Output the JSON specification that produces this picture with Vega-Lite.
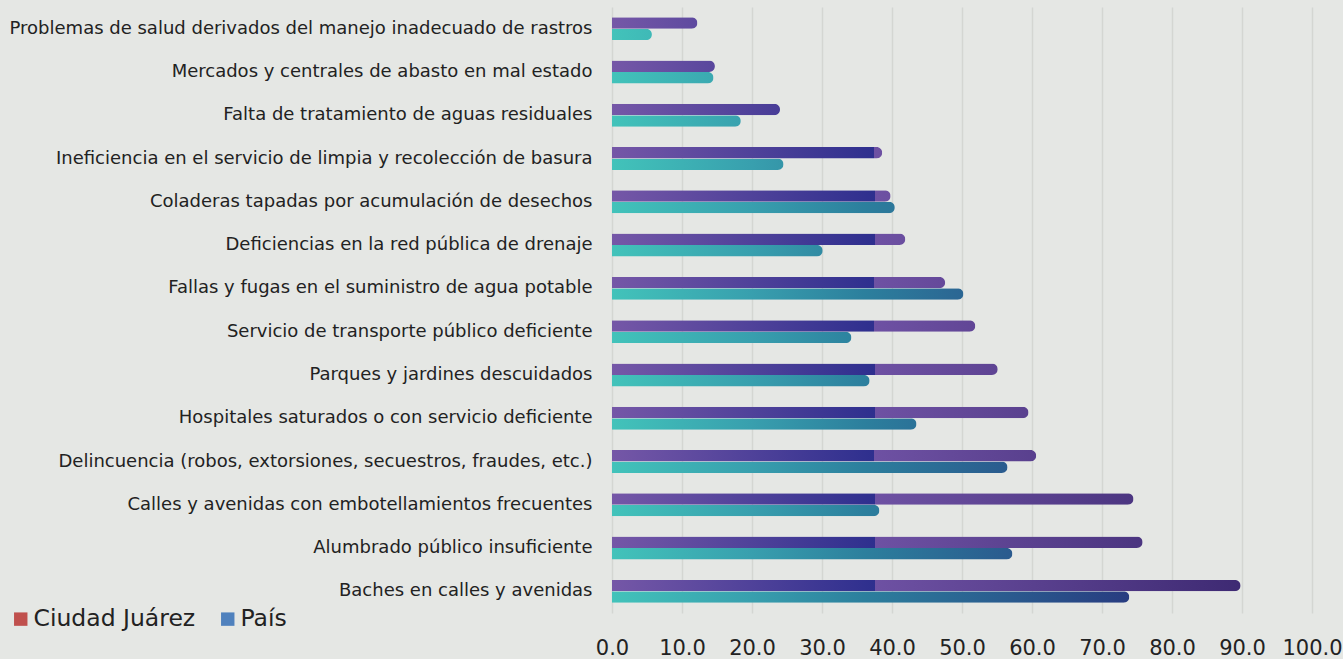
{
  "$schema": "https://vega.github.io/schema/vega-lite/v6.json",
  "autosize": {"type": "none"},
  "width": 700,
  "height": 606,
  "padding": {"left": 612, "top": 7, "right": 31, "bottom": 46},
  "background": "#e5e7e4",
  "config": {"view": {"stroke": null}, "font": "DejaVu Sans"},
  "data": {"values": [
    {"problema": "Problemas de salud derivados del manejo inadecuado de rastros", "serie": "Ciudad Juárez", "valor": 12.2},
    {"problema": "Problemas de salud derivados del manejo inadecuado de rastros", "serie": "País", "valor": 5.7},
    {"problema": "Mercados y centrales de abasto en mal estado", "serie": "Ciudad Juárez", "valor": 14.7},
    {"problema": "Mercados y centrales de abasto en mal estado", "serie": "País", "valor": 14.5},
    {"problema": "Falta de tratamiento de aguas residuales", "serie": "Ciudad Juárez", "valor": 24.0},
    {"problema": "Falta de tratamiento de aguas residuales", "serie": "País", "valor": 18.4},
    {"problema": "Ineficiencia en el servicio de limpia y recolección de basura", "serie": "Ciudad Juárez", "valor": 38.6},
    {"problema": "Ineficiencia en el servicio de limpia y recolección de basura", "serie": "País", "valor": 24.5},
    {"problema": "Coladeras tapadas por acumulación de desechos", "serie": "Ciudad Juárez", "valor": 39.8},
    {"problema": "Coladeras tapadas por acumulación de desechos", "serie": "País", "valor": 40.4},
    {"problema": "Deficiencias en la red pública de drenaje", "serie": "Ciudad Juárez", "valor": 41.9},
    {"problema": "Deficiencias en la red pública de drenaje", "serie": "País", "valor": 30.1},
    {"problema": "Fallas y fugas en el suministro de agua potable", "serie": "Ciudad Juárez", "valor": 47.6},
    {"problema": "Fallas y fugas en el suministro de agua potable", "serie": "País", "valor": 50.2},
    {"problema": "Servicio de transporte público deficiente", "serie": "Ciudad Juárez", "valor": 51.9},
    {"problema": "Servicio de transporte público deficiente", "serie": "País", "valor": 34.2},
    {"problema": "Parques y jardines descuidados", "serie": "Ciudad Juárez", "valor": 55.1},
    {"problema": "Parques y jardines descuidados", "serie": "País", "valor": 36.8},
    {"problema": "Hospitales saturados o con servicio deficiente", "serie": "Ciudad Juárez", "valor": 59.5},
    {"problema": "Hospitales saturados o con servicio deficiente", "serie": "País", "valor": 43.5},
    {"problema": "Delincuencia (robos, extorsiones, secuestros, fraudes, etc.)", "serie": "Ciudad Juárez", "valor": 60.6},
    {"problema": "Delincuencia (robos, extorsiones, secuestros, fraudes, etc.)", "serie": "País", "valor": 56.5},
    {"problema": "Calles y avenidas con embotellamientos frecuentes", "serie": "Ciudad Juárez", "valor": 74.5},
    {"problema": "Calles y avenidas con embotellamientos frecuentes", "serie": "País", "valor": 38.2},
    {"problema": "Alumbrado público insuficiente", "serie": "Ciudad Juárez", "valor": 75.8},
    {"problema": "Alumbrado público insuficiente", "serie": "País", "valor": 57.2},
    {"problema": "Baches en calles y avenidas", "serie": "Ciudad Juárez", "valor": 89.8},
    {"problema": "Baches en calles y avenidas", "serie": "País", "valor": 73.9}
  ]},
  "encoding": {
    "y": {
      "field": "problema", "type": "nominal", "sort": null,
      "scale": {"paddingInner": 0.47, "paddingOuter": 0.235},
      "axis": {"title": null, "domain": false, "ticks": false, "grid": false, "labelFontSize": 18, "labelFontWeight": 400, "labelColor": "#222222", "labelPadding": 20, "labelLimit": 800}
    },
    "yOffset": {"field": "serie", "type": "nominal", "scale": {"domain": ["Ciudad Juárez", "País"], "paddingInner": 0, "paddingOuter": 0}},
    "x": {
      "field": "valor", "type": "quantitative",
      "scale": {"domain": [0, 100], "nice": false},
      "axis": {"title": null, "domain": false, "ticks": false, "grid": true, "gridColor": "#d4d6d2", "gridWidth": 1.5, "values": [0, 10, 20, 30, 40, 50, 60, 70, 80, 90, 100], "format": ".1f", "labelFontSize": 21, "labelFontWeight": 400, "labelColor": "#222222", "labelPadding": 24, "labelFlush": false}
    }
  },
  "layer": [
    {
      "transform": [{"filter": "datum.serie === 'Ciudad Juárez'"}],
      "mark": {"type": "bar", "cornerRadiusEnd": 6},
      "encoding": {
        "color": {
          "condition": [
            {"test": "datum.problema === 'Problemas de salud derivados del manejo inadecuado de rastros'", "value": {"gradient": "linear", "x1": 0, "y1": 0, "x2": 1, "y2": 0, "stops": [{"offset": 0, "color": "#7557a7"}, {"offset": 1, "color": "#5e4a9f"}]}},
            {"test": "datum.problema === 'Mercados y centrales de abasto en mal estado'", "value": {"gradient": "linear", "x1": 0, "y1": 0, "x2": 1, "y2": 0, "stops": [{"offset": 0, "color": "#7557a7"}, {"offset": 1, "color": "#59479d"}]}},
            {"test": "datum.problema === 'Falta de tratamiento de aguas residuales'", "value": {"gradient": "linear", "x1": 0, "y1": 0, "x2": 1, "y2": 0, "stops": [{"offset": 0, "color": "#7557a7"}, {"offset": 1, "color": "#483d97"}]}},
            {"test": "datum.problema === 'Ineficiencia en el servicio de limpia y recolección de basura'", "value": {"gradient": "linear", "x1": 0, "y1": 0, "x2": 1, "y2": 0, "stops": [{"offset": 0, "color": "#7557a7"}, {"offset": 0.9715, "color": "#2e2f8e"}, {"offset": 0.9715, "color": "#6e51a3"}, {"offset": 1, "color": "#6d50a2"}]}},
            {"test": "datum.problema === 'Coladeras tapadas por acumulación de desechos'", "value": {"gradient": "linear", "x1": 0, "y1": 0, "x2": 1, "y2": 0, "stops": [{"offset": 0, "color": "#7557a7"}, {"offset": 0.9446, "color": "#2e2f8e"}, {"offset": 0.9446, "color": "#6e51a3"}, {"offset": 1, "color": "#6c4fa1"}]}},
            {"test": "datum.problema === 'Deficiencias en la red pública de drenaje'", "value": {"gradient": "linear", "x1": 0, "y1": 0, "x2": 1, "y2": 0, "stops": [{"offset": 0, "color": "#7557a7"}, {"offset": 0.895, "color": "#2e2f8e"}, {"offset": 0.895, "color": "#6e51a3"}, {"offset": 1, "color": "#6a4e9f"}]}},
            {"test": "datum.problema === 'Fallas y fugas en el suministro de agua potable'", "value": {"gradient": "linear", "x1": 0, "y1": 0, "x2": 1, "y2": 0, "stops": [{"offset": 0, "color": "#7557a7"}, {"offset": 0.7878, "color": "#2e2f8e"}, {"offset": 0.7878, "color": "#6e51a3"}, {"offset": 1, "color": "#65499a"}]}},
            {"test": "datum.problema === 'Servicio de transporte público deficiente'", "value": {"gradient": "linear", "x1": 0, "y1": 0, "x2": 1, "y2": 0, "stops": [{"offset": 0, "color": "#7557a7"}, {"offset": 0.7225, "color": "#2e2f8e"}, {"offset": 0.7225, "color": "#6e51a3"}, {"offset": 1, "color": "#614696"}]}},
            {"test": "datum.problema === 'Parques y jardines descuidados'", "value": {"gradient": "linear", "x1": 0, "y1": 0, "x2": 1, "y2": 0, "stops": [{"offset": 0, "color": "#7557a7"}, {"offset": 0.6818, "color": "#2e2f8e"}, {"offset": 0.6818, "color": "#6e51a3"}, {"offset": 1, "color": "#5e4493"}]}},
            {"test": "datum.problema === 'Hospitales saturados o con servicio deficiente'", "value": {"gradient": "linear", "x1": 0, "y1": 0, "x2": 1, "y2": 0, "stops": [{"offset": 0, "color": "#7557a7"}, {"offset": 0.6313, "color": "#2e2f8e"}, {"offset": 0.6313, "color": "#6e51a3"}, {"offset": 1, "color": "#5a418f"}]}},
            {"test": "datum.problema === 'Delincuencia (robos, extorsiones, secuestros, fraudes, etc.)'", "value": {"gradient": "linear", "x1": 0, "y1": 0, "x2": 1, "y2": 0, "stops": [{"offset": 0, "color": "#7557a7"}, {"offset": 0.6188, "color": "#2e2f8e"}, {"offset": 0.6188, "color": "#6e51a3"}, {"offset": 1, "color": "#59408e"}]}},
            {"test": "datum.problema === 'Calles y avenidas con embotellamientos frecuentes'", "value": {"gradient": "linear", "x1": 0, "y1": 0, "x2": 1, "y2": 0, "stops": [{"offset": 0, "color": "#7557a7"}, {"offset": 0.504, "color": "#2e2f8e"}, {"offset": 0.504, "color": "#6e51a3"}, {"offset": 1, "color": "#4c3681"}]}},
            {"test": "datum.problema === 'Alumbrado público insuficiente'", "value": {"gradient": "linear", "x1": 0, "y1": 0, "x2": 1, "y2": 0, "stops": [{"offset": 0, "color": "#7557a7"}, {"offset": 0.4954, "color": "#2e2f8e"}, {"offset": 0.4954, "color": "#6e51a3"}, {"offset": 1, "color": "#4b3580"}]}}
          ],
          "value": {"gradient": "linear", "x1": 0, "y1": 0, "x2": 1, "y2": 0, "stops": [{"offset": 0, "color": "#7557a7"}, {"offset": 0.418, "color": "#2e2f8e"}, {"offset": 0.418, "color": "#6e51a3"}, {"offset": 1, "color": "#3e2a73"}]}
        }
      }
    },
    {
      "transform": [{"filter": "datum.serie === 'País'"}],
      "mark": {"type": "bar", "cornerRadiusEnd": 6},
      "encoding": {
        "color": {
          "condition": [
            {"test": "datum.problema === 'Problemas de salud derivados del manejo inadecuado de rastros'", "value": {"gradient": "linear", "x1": 0, "y1": 0, "x2": 1, "y2": 0, "stops": [{"offset": 0, "color": "#42c3ba"}, {"offset": 1, "color": "#3fb9b7"}]}},
            {"test": "datum.problema === 'Mercados y centrales de abasto en mal estado'", "value": {"gradient": "linear", "x1": 0, "y1": 0, "x2": 1, "y2": 0, "stops": [{"offset": 0, "color": "#42c3ba"}, {"offset": 1, "color": "#3ba9b1"}]}},
            {"test": "datum.problema === 'Falta de tratamiento de aguas residuales'", "value": {"gradient": "linear", "x1": 0, "y1": 0, "x2": 1, "y2": 0, "stops": [{"offset": 0, "color": "#42c3ba"}, {"offset": 1, "color": "#39a2af"}]}},
            {"test": "datum.problema === 'Ineficiencia en el servicio de limpia y recolección de basura'", "value": {"gradient": "linear", "x1": 0, "y1": 0, "x2": 1, "y2": 0, "stops": [{"offset": 0, "color": "#42c3ba"}, {"offset": 0.82, "color": "#389fae"}, {"offset": 1, "color": "#3596a9"}]}},
            {"test": "datum.problema === 'Coladeras tapadas por acumulación de desechos'", "value": {"gradient": "linear", "x1": 0, "y1": 0, "x2": 1, "y2": 0, "stops": [{"offset": 0, "color": "#42c3ba"}, {"offset": 0.496, "color": "#389fae"}, {"offset": 0.893, "color": "#2c7f9d"}, {"offset": 1, "color": "#2c779a"}]}},
            {"test": "datum.problema === 'Deficiencias en la red pública de drenaje'", "value": {"gradient": "linear", "x1": 0, "y1": 0, "x2": 1, "y2": 0, "stops": [{"offset": 0, "color": "#42c3ba"}, {"offset": 0.667, "color": "#389fae"}, {"offset": 1, "color": "#318ba3"}]}},
            {"test": "datum.problema === 'Fallas y fugas en el suministro de agua potable'", "value": {"gradient": "linear", "x1": 0, "y1": 0, "x2": 1, "y2": 0, "stops": [{"offset": 0, "color": "#42c3ba"}, {"offset": 0.399, "color": "#389fae"}, {"offset": 0.719, "color": "#2c7f9d"}, {"offset": 1, "color": "#2b6693"}]}},
            {"test": "datum.problema === 'Servicio de transporte público deficiente'", "value": {"gradient": "linear", "x1": 0, "y1": 0, "x2": 1, "y2": 0, "stops": [{"offset": 0, "color": "#42c3ba"}, {"offset": 0.587, "color": "#389fae"}, {"offset": 1, "color": "#2d839f"}]}},
            {"test": "datum.problema === 'Parques y jardines descuidados'", "value": {"gradient": "linear", "x1": 0, "y1": 0, "x2": 1, "y2": 0, "stops": [{"offset": 0, "color": "#42c3ba"}, {"offset": 0.545, "color": "#389fae"}, {"offset": 1, "color": "#2c7e9d"}]}},
            {"test": "datum.problema === 'Hospitales saturados o con servicio deficiente'", "value": {"gradient": "linear", "x1": 0, "y1": 0, "x2": 1, "y2": 0, "stops": [{"offset": 0, "color": "#42c3ba"}, {"offset": 0.461, "color": "#389fae"}, {"offset": 0.829, "color": "#2c7f9d"}, {"offset": 1, "color": "#2b7298"}]}},
            {"test": "datum.problema === 'Delincuencia (robos, extorsiones, secuestros, fraudes, etc.)'", "value": {"gradient": "linear", "x1": 0, "y1": 0, "x2": 1, "y2": 0, "stops": [{"offset": 0, "color": "#42c3ba"}, {"offset": 0.355, "color": "#389fae"}, {"offset": 0.638, "color": "#2c7f9d"}, {"offset": 1, "color": "#2a5b8e"}]}},
            {"test": "datum.problema === 'Calles y avenidas con embotellamientos frecuentes'", "value": {"gradient": "linear", "x1": 0, "y1": 0, "x2": 1, "y2": 0, "stops": [{"offset": 0, "color": "#42c3ba"}, {"offset": 0.525, "color": "#389fae"}, {"offset": 0.945, "color": "#2c7f9d"}, {"offset": 1, "color": "#2c7b9c"}]}},
            {"test": "datum.problema === 'Alumbrado público insuficiente'", "value": {"gradient": "linear", "x1": 0, "y1": 0, "x2": 1, "y2": 0, "stops": [{"offset": 0, "color": "#42c3ba"}, {"offset": 0.35, "color": "#389fae"}, {"offset": 0.63, "color": "#2c7f9d"}, {"offset": 1, "color": "#2a5a8e"}]}}
          ],
          "value": {"gradient": "linear", "x1": 0, "y1": 0, "x2": 1, "y2": 0, "stops": [{"offset": 0, "color": "#42c3ba"}, {"offset": 0.271, "color": "#389fae"}, {"offset": 0.487, "color": "#2c7f9d"}, {"offset": 0.771, "color": "#2a5a8e"}, {"offset": 1, "color": "#283c80"}]}
        }
      }
    },
    {
      "mark": {"type": "bar"},
      "encoding": {
        "x": {"datum": 0},
        "color": {
          "field": "serie", "type": "nominal",
          "scale": {"domain": ["Ciudad Juárez", "País"], "range": ["#c0504d", "#4f81bd"]},
          "legend": {"title": null, "orient": "none", "direction": "horizontal", "legendX": -603, "legendY": 600, "padding": 0, "symbolType": "square", "symbolSize": 180, "symbolOpacity": 1, "symbolStrokeWidth": 0, "labelFontSize": 23.5, "labelFontWeight": 400, "labelColor": "#222222", "labelOffset": 1, "labelLimit": 400, "columnPadding": 20}
        }
      }
    }
  ],
  "resolve": {"scale": {"color": "independent"}}
}
